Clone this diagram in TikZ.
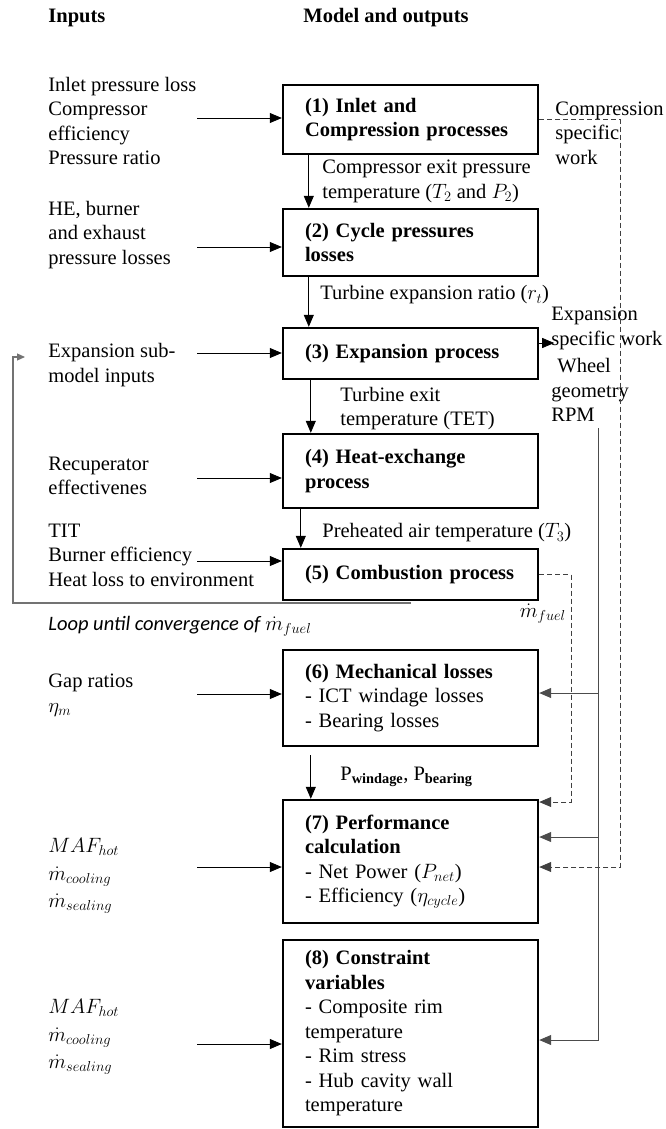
\documentclass[tikz,border=0pt]{standalone}
\usepackage{fontspec}
\setmainfont{Liberation Serif}
\newfontfamily\loopfont{Carlito}
\usetikzlibrary{arrows.meta}

\tikzset{every picture/.style={line width=0.8pt},
        procBox/.style={draw, line width=2.4pt, text width=211pt, inner xsep=22pt, inner ysep=4pt, align=left},
        txt/.style={inner sep=0pt, align=left},
        wideTxt/.style={txt, font=\fontsize{20.5}{27.5}\selectfont},
        flow/.style={-{Triangle[length=12pt,width=10pt]}},
        feed/.style={flow, draw=black!70, line width=1pt},
        dashFeed/.style={flow, draw=black!75, dash pattern=on 5pt off 3pt}}

\begin{document}
\fontsize{20.5}{24.5}\selectfont
\begin{tikzpicture}[x=1pt, y=-1pt]
\useasboundingbox (0,0) rectangle (666,1129);

% headings
\node[txt, anchor=west, font=\bfseries] (hIn) at (48,18) {Inputs};
\node[txt, anchor=west, font=\bfseries] (hOut) at (303,18) {Model and outputs};

% draw process boxes
\node[procBox, minimum height=69pt] (b1) at (410.5,119.5) {\textbf{(1) Inlet and}\\\textbf{Compression processes}};
\node[procBox, minimum height=67pt] (b2) at (410.5,242.5) {\textbf{(2) Cycle pressures}\\\textbf{losses}};
\node[procBox, minimum height=51pt] (b3) at (410.5,353.5) {\textbf{(3) Expansion process}};
\node[procBox, minimum height=74pt] (b4) at (410.5,471) {\textbf{(4) Heat-exchange}\\\textbf{process}};
\node[procBox, minimum height=51pt] (b5) at (410.5,574.5) {\textbf{(5) Combustion process}};
\node[procBox, minimum height=96pt] (b6) at (410.5,698) {\textbf{(6) Mechanical losses}\\- ICT windage losses\\- Bearing losses};
\node[procBox, minimum height=123pt] (b7) at (410.5,861.5) {\textbf{(7) Performance}\\\textbf{calculation}\\- Net Power ($P_{net}$)\\- Efficiency ($\eta_{cycle}$)};
\node[procBox, minimum height=187pt] (b8) at (410.5,1033.5) {\textbf{(8) Constraint}\\\textbf{variables}\\- Composite rim\\temperature\\- Rim stress\\- Hub cavity wall\\temperature};

% inputs
\node[txt, anchor=west] (i1) at (48,121) {Inlet pressure loss\\Compressor\\efficiency\\Pressure ratio};
\node[txt, anchor=west] (i2) at (48,235) {HE, burner\\and exhaust\\pressure losses};
\node[txt, anchor=west] (i3) at (48,365) {Expansion sub-\\model inputs};
\node[txt, anchor=west] (i4) at (48,476) {Recuperator\\effectivenes};
\node[txt, anchor=west] (i5) at (48,555) {TIT\\Burner efficiency\\Heat loss to environment};
\node[txt, anchor=west] (i6) at (48,695) {Gap ratios\\$\eta_m$};
\node[wideTxt, anchor=west] (i7) at (48,876) {$MAF_{hot}$\\$\dot m_{cooling}$\\$\dot m_{sealing}$};
\node[wideTxt, anchor=west] (i8) at (48,1037) {$MAF_{hot}$\\$\dot m_{cooling}$\\$\dot m_{sealing}$};

\foreach \b/\y in {b1/118, b2/247, b3/353, b4/478, b5/561, b6/694, b7/867, b8/1044} {
    \coordinate (in-\b) at (197,\y);
    \draw[flow] (in-\b) -- (in-\b -| \b.west);
}

% main flow
\draw[flow] ([xshift=27pt]b1.south west) -- ([xshift=27pt]b2.north west);
\draw[flow] ([xshift=27pt]b2.south west) -- ([xshift=27pt]b3.north west);
\draw[flow] ([xshift=29pt]b3.south west) -- ([xshift=29pt]b4.north west);
\draw[flow] ([xshift=19pt]b4.south west) -- ([xshift=19pt]b5.north west);
\draw[flow] ([xshift=29pt,yshift=-8pt]b6.south west) -- ([xshift=29pt]b7.north west);

\node[txt, anchor=west] (l12) at (322,181.5) {Compressor exit pressure\\temperature ($T_2$ and $P_2$)};
\node[txt, anchor=west] (l23) at (320,295) {Turbine expansion ratio ($r_t$)};
\node[txt, anchor=west] (l34) at (340,408.5) {Turbine exit\\temperature (TET)};
\node[txt, anchor=west] (l45) at (322,533) {Preheated air temperature ($T_3$)};
\node[txt, anchor=west] (l67) at (340,777) {P\textsubscript{\textbf{windage}}, P\textsubscript{\textbf{bearing}}};

% loop back
\coordinate (loopEnd) at (411,603);
\coordinate (loopTip) at (25,357);
\draw[draw=black!55, line width=1.2pt, -{Triangle[length=8pt,width=7pt]}] (loopEnd) -- ++(-398,0) |- (loopTip);
\node[txt, anchor=west] (loopTxt) at (48,626) {{\loopfont\itshape Loop until convergence of} $\dot m_{fuel}$};

% outputs on the right
\node[txt, anchor=west] (cwTxt) at (555,133) {Compression\\specific\\work};
\node[txt, anchor=west] (ewTxt) at (551,328.5) {Expansion\\specific work};
\node[txt, anchor=west] (geoTxt) at (551,390) {\hspace*{6pt}Wheel\\geometry\\RPM};
\node[txt, anchor=east] (fuelTxt) at (566,614) {$\dot m_{fuel}$};

\draw[flow] ([yshift=10.5pt]b3.east) -- ++(15,0);

\coordinate (cwBus) at (620,867);
\draw[dashFeed] (b1.east) -| (cwBus) -- (cwBus -| b7.east);
\coordinate (fuelBus) at (571,802);
\draw[dashFeed] (b5.east) -| (fuelBus) -- (fuelBus -| b7.east);

\coordinate (geoTop) at (598,428);
\coordinate (a6) at ([yshift=5pt]b6.east);
\coordinate (a7) at ([yshift=24.5pt]b7.east);
\coordinate (a8) at ([yshift=-6.5pt]b8.east);
\draw[feed] (geoTop) |- (a8);
\draw[feed] (a6 -| geoTop) -- (a6);
\draw[feed] (a7 -| geoTop) -- (a7);

\end{tikzpicture}
\end{document}
